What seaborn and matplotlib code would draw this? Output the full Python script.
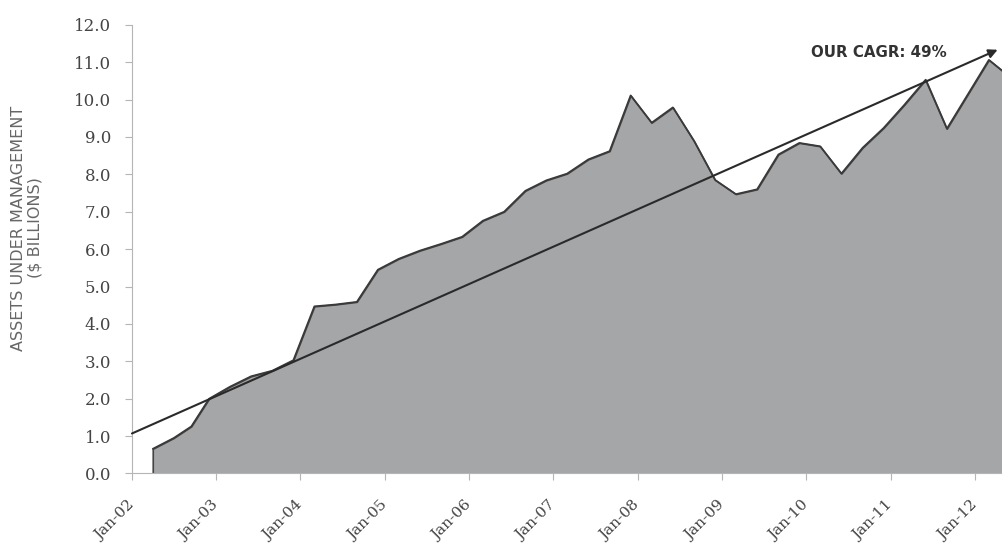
import pandas as pd
import matplotlib.pyplot as plt
import matplotlib.dates as mdates
import seaborn as sns

# quarterly assets under management ($ billions)
dates = [
    "2002-04-01", "2002-07-01", "2002-09-15", "2002-12-01",
    "2003-03-01", "2003-06-01", "2003-09-01", "2003-12-01",
    "2004-03-01", "2004-06-01", "2004-09-01", "2004-12-01",
    "2005-03-01", "2005-06-01", "2005-09-01", "2005-12-01",
    "2006-03-01", "2006-06-01", "2006-09-01", "2006-12-01",
    "2007-03-01", "2007-06-01", "2007-09-01", "2007-12-01",
    "2008-03-01", "2008-06-01", "2008-09-01", "2008-12-01",
    "2009-03-01", "2009-06-01", "2009-09-01", "2009-12-01",
    "2010-03-01", "2010-06-01", "2010-09-01", "2010-12-01",
    "2011-03-01", "2011-06-01", "2011-09-01", "2011-12-01",
    "2012-03-01", "2012-06-01",
]
aum = [
    0.66, 0.95, 1.26, 2.00,
    2.32, 2.60, 2.75, 3.03,
    4.47, 4.52, 4.59, 5.45,
    5.74, 5.96, 6.14, 6.33,
    6.76, 7.00, 7.56, 7.84,
    8.02, 8.40, 8.62, 10.11,
    9.38, 9.79, 8.89, 7.85,
    7.47, 7.60, 8.53, 8.84,
    8.75, 8.02, 8.71, 9.24,
    9.86, 10.53, 9.22, 10.14,
    11.06, 10.60,
]

# trend line (start / arrow tip)
trend_dates = ["2002-01-01", "2012-04-08"]
trend_values = [1.07, 11.33]

tick_years = list(range(2002, 2013))
y_ticks = [0, 1, 2, 3, 4, 5, 6, 7, 8, 9, 10, 11, 12]
cagr_label = "OUR CAGR: 49%"
label_date = "2010-01-20"
label_value = 11.25

df = pd.DataFrame({"date": pd.to_datetime(dates), "aum": aum})
trend = pd.DataFrame({"date": pd.to_datetime(trend_dates), "value": trend_values})

sns.set_style("white")

fig = plt.figure(figsize=(10.02, 5.43), dpi=100)
ax = fig.add_axes([0.1317, 0.128, 0.8683, 0.8265])

# area + outline
ax.fill_between(df["date"], 0, df["aum"], facecolor="#a5a6a8",
                edgecolor="#444444", linewidth=1.2, zorder=2)
sns.lineplot(data=df, x="date", y="aum", ax=ax, color="#3a3a3a",
             linewidth=1.2, zorder=3)

# trend line with arrow head
ax.annotate("", xy=(trend["date"][1], trend["value"][1]),
            xytext=(trend["date"][0], trend["value"][0]),
            arrowprops=dict(arrowstyle="-|>", color="#2a2a2a", lw=1.5,
                            mutation_scale=13, shrinkA=0, shrinkB=0),
            annotation_clip=False, zorder=4)

ax.text(pd.Timestamp(label_date), label_value, cagr_label, fontsize=10.8,
        fontweight="bold", color="#333333", va="center", ha="left",
        family="DejaVu Sans")

ax.set_xlim(pd.Timestamp("2002-01-01"), pd.Timestamp("2012-04-27"))
ax.set_ylim(0, 12)
ax.set_xticks([pd.Timestamp(f"{y}-01-01") for y in tick_years])
ax.xaxis.set_major_formatter(mdates.DateFormatter("%b-%y"))
ax.set_yticks(y_ticks)
ax.set_yticklabels([f"{v:.1f}" for v in y_ticks])

for lab in ax.get_xticklabels():
    lab.set_rotation(45)
    lab.set_ha("right")
    lab.set_va("center")
    lab.set_rotation_mode("anchor")
    lab.set_family("DejaVu Serif")
    lab.set_fontsize(11)
    lab.set_color("#444444")
for lab in ax.get_yticklabels():
    lab.set_family("DejaVu Serif")
    lab.set_fontsize(12)
    lab.set_color("#444444")

ax.tick_params(axis="both", which="major", direction="out", length=5,
               width=0.8, color="#b5b5b5", left=True, bottom=True)
ax.tick_params(axis="y", pad=10)
ax.tick_params(axis="x", pad=16)

sns.despine(ax=ax, top=True, right=True)
ax.spines["left"].set_color("#b5b5b5")
ax.spines["bottom"].set_color("#b5b5b5")
ax.set_xlabel("")
ax.set_ylabel("")

fig.text(0.0265, 1 - 228 / 543, "ASSETS UNDER MANAGEMENT\n($ BILLIONS)",
         rotation=90, ha="center", va="center", multialignment="center",
         fontsize=11.5, color="#666666", family="DejaVu Sans",
         linespacing=1.1)

fig.savefig("out.png", dpi=100)
